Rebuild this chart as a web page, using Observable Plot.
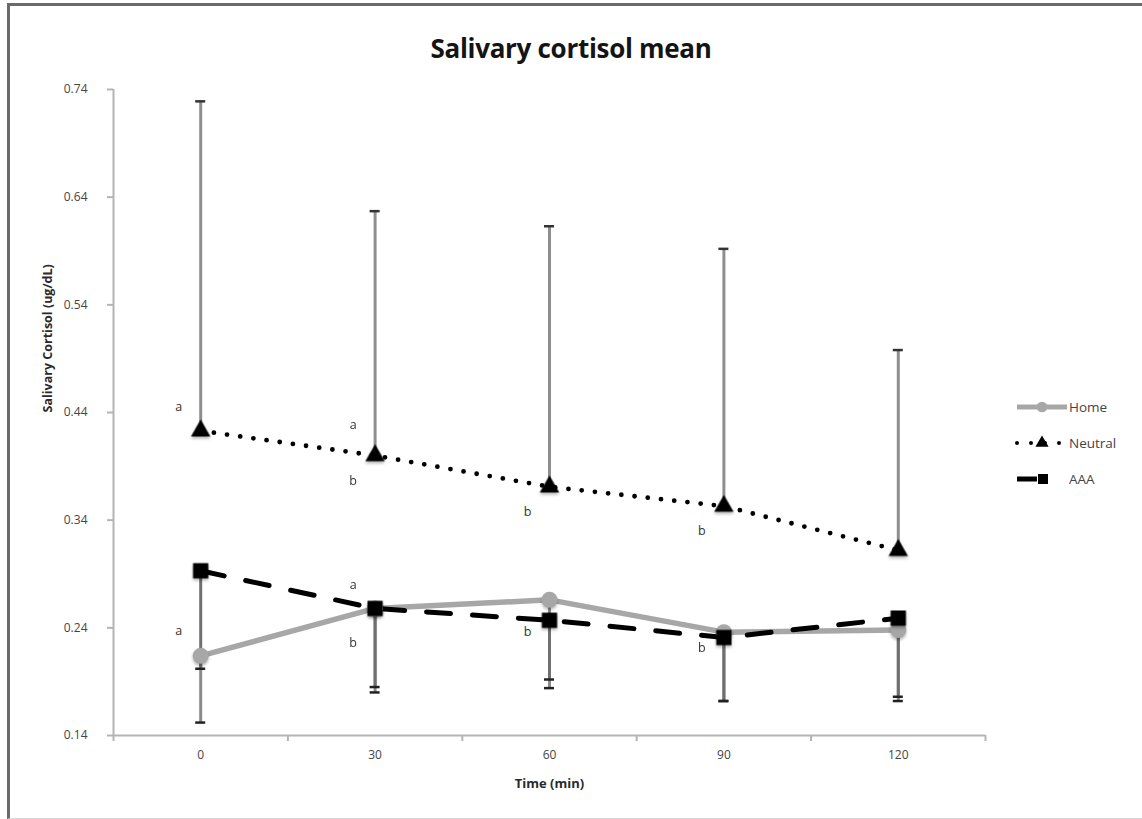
<!DOCTYPE html>
<html>
<head>
<meta charset="utf-8">
<script src="https://cdn.jsdelivr.net/npm/d3@7"></script>
<script src="https://cdn.jsdelivr.net/npm/@observablehq/plot@0.6"></script>
<style>
  body { margin: 0; background: #fff; font-family: "Open Sans", "Liberation Sans", sans-serif; }
  #frame { position: absolute; left: 7px; top: 3px; width: 1140px; height: 816px; box-sizing: border-box;
           border-left: 3px solid #6a6a6a; border-top: 3px solid #6a6a6a; border-bottom: 1px solid #d8d8d8; }
  #title { position: absolute; left: 0; top: 32px; width: 1142px; text-align: center;
           font-weight: 700; font-size: 26px; color: #141414; line-height: 32px; letter-spacing: -0.3px; }
  #chart { position: absolute; left: 0; top: 70px; }
  #legend { position: absolute; left: 1005px; top: 390px; }
  #chart g[aria-label="dot"] { filter: drop-shadow(0 2px 1.5px rgba(0,0,0,0.3)); }
</style>
</head>
<body>
<div id="frame"></div>
<div id="title">Salivary cortisol mean</div>
<div id="chart"></div>
<div id="legend"></div>
<script>
// Sampling times (min)
const times = [0, 30, 60, 90, 120];

// Home condition: mean and lower error limit
const homeMean  = [0.214, 0.258, 0.266, 0.236, 0.238];
const homeLower = [0.152, 0.180, 0.184, 0.172, 0.172];

// Neutral condition: mean and upper error limit
const neutralMean  = [0.423, 0.400, 0.371, 0.353, 0.312];
const neutralUpper = [0.729, 0.627, 0.613, 0.592, 0.498];

// AAA condition: mean and lower error limit
const aaaMean  = [0.293, 0.258, 0.247, 0.231, 0.249];
const aaaLower = [0.202, 0.185, 0.192, 0.172, 0.176];

// Axis ticks
const yTicks = [0.14, 0.24, 0.34, 0.44, 0.54, 0.64, 0.74];
const xBounds = [-15, 15, 45, 75, 105, 135];   // category separators

// Significance letters
const letterTimes  = [0, 30, 30, 60, 90, 0, 30, 30, 60, 90];
const letterValues = [0.445, 0.428, 0.376, 0.348, 0.330, 0.2375, 0.280, 0.2255, 0.2365, 0.221];
const letterText   = ["a", "a", "b", "b", "b", "a", "a", "b", "b", "b"];

const home    = times.map((t, i) => ({time: t, mean: homeMean[i], err: homeLower[i]}));
const neutral = times.map((t, i) => ({time: t, mean: neutralMean[i], err: neutralUpper[i]}));
const aaa     = times.map((t, i) => ({time: t, mean: aaaMean[i], err: aaaLower[i]}));
const letters = letterTimes.map((t, i) => ({time: t, y: letterValues[i], letter: letterText[i]}));

const axisGray = "#b4b4b4";
const cap = (data, stroke) => Plot.ruleY(data, {x1: "time", x2: "time", y: "err", insetLeft: -5, insetRight: -5, stroke, strokeWidth: 2.5});

const chart = Plot.plot({
  width: 1142,
  height: 745,
  marginLeft: 113,
  marginRight: 157,
  marginTop: 19,
  marginBottom: 80,
  x: {domain: [-15, 135]},
  y: {domain: [0.14, 0.74]},
  style: {fontFamily: "'Open Sans', sans-serif", fontSize: "12px", color: "#454545", background: "transparent", overflow: "visible"},
  marks: [
    // axis lines
    Plot.ruleY([0.14], {stroke: axisGray, strokeWidth: 2}),
    Plot.ruleX([-15], {stroke: axisGray, strokeWidth: 2}),
    Plot.axisY({ticks: yTicks, tickFormat: d3.format(".2f"), tickSize: 6, tickPadding: 20, stroke: axisGray, strokeWidth: 2, label: null}),
    Plot.axisX({ticks: xBounds, tickSize: 6, tickFormat: () => "", stroke: axisGray, strokeWidth: 2, label: null}),
    Plot.axisX({ticks: times, tickSize: 0, tickPadding: 15, label: null}),
    Plot.text(["Time (min)"], {frameAnchor: "bottom", dy: 52, fontWeight: "bold", fontSize: 13, fill: "#2a2a2a"}),
    Plot.text(["Salivary Cortisol (ug/dL)"], {frameAnchor: "left", dx: -66, rotate: -90, fontWeight: "bold", fontSize: 12.5, fill: "#2a2a2a"}),

    // error bars
    Plot.ruleX(neutral, {x: "time", y1: "mean", y2: "err", stroke: "#8e8e8e", strokeWidth: 3}),
    cap(neutral, "#333"),
    Plot.ruleX(home, {x: "time", y1: "mean", y2: "err", stroke: "#8a8a8a", strokeWidth: 3}),
    Plot.ruleX(aaa, {x: "time", y1: "mean", y2: "err", stroke: "#707070", strokeWidth: 3}),
    cap(home, "#222"),
    cap(aaa, "#222"),

    // series lines
    Plot.line(home, {x: "time", y: "mean", stroke: "#a7a7a7", strokeWidth: 5.5}),
    Plot.line(neutral, {x: "time", y: "mean", stroke: "#000", strokeWidth: 4.8, strokeDasharray: "0,13.3", strokeLinecap: "round"}),
    Plot.line(aaa, {x: "time", y: "mean", stroke: "#000", strokeWidth: 5, strokeDasharray: "24,22"}),

    // markers
    Plot.dot(home, {x: "time", y: "mean", r: 8, fill: "#a7a7a7", symbol: "circle"}),
    Plot.dot(neutral, {x: "time", y: "mean", r: 7.2, fill: "#000", symbol: "triangle"}),
    Plot.dot(aaa, {x: "time", y: "mean", r: 8.6, fill: "#000", symbol: "square"}),

    // significance letters
    Plot.text(letters, {x: "time", y: "y", text: "letter", dx: -22, fontSize: 12.5, fill: "#333"})
  ]
});
document.getElementById("chart").appendChild(chart);

// Legend
const legendItems = [
  {name: "Home", stroke: "#a7a7a7", width: 5, dash: null, cap: "butt", symbol: d3.symbolCircle, fill: "#a7a7a7", size: 90},
  {name: "Neutral", stroke: "#000", width: 4, dash: "0,14", cap: "round", symbol: d3.symbolTriangle, fill: "#000", size: 75},
  {name: "AAA", stroke: "#000", width: 5, dash: "20,40", cap: "butt", symbol: d3.symbolSquare, fill: "#000", size: 100}
];
const lg = d3.select("#legend").append("svg").attr("width", 137).attr("height", 110)
  .style("font-family", "'Open Sans', sans-serif").style("font-size", "13.5px");
legendItems.forEach((d, i) => {
  const g = lg.append("g").attr("transform", `translate(0,${17 + i * 36})`);
  g.append("line").attr("x1", 12).attr("x2", 62).attr("stroke", d.stroke)
    .attr("stroke-width", d.width).attr("stroke-dasharray", d.dash).attr("stroke-linecap", d.cap);
  g.append("path").attr("d", d3.symbol(d.symbol, d.size)()).attr("fill", d.fill)
    .attr("transform", `translate(${d.name === "AAA" ? 38 : 37},0)`);
  g.append("text").attr("x", 64).attr("dy", "0.35em").attr("fill", "#444").text(d.name);
});
</script>
</body>
</html>
